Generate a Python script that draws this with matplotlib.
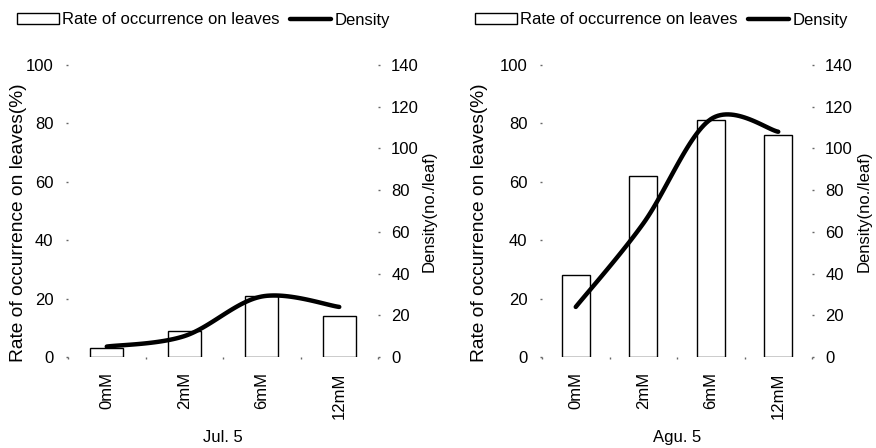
import matplotlib
matplotlib.use("Agg")
import matplotlib.pyplot as plt
import numpy as np

## data
concentrations = ['0mM', '2mM', '6mM', '12mM']
jul_rate = [3, 9, 21, 14]
jul_density = [5, 10, 29, 24]
agu_rate = [28, 62, 81, 76]
agu_density = [24, 64, 114, 108]
panel_titles = ['Jul. 5', 'Agu. 5']

plt.rcParams['font.family'] = ['Liberation Sans', 'DejaVu Sans']
plt.rcParams['font.size'] = 12


def smooth_line(xs, ys, n=30):
    ## excel-like smoothed line: bezier segments with 1/6 tension
    xs = np.asarray(xs, float)
    ys = np.asarray(ys, float)
    px = np.concatenate([[xs[0]], xs, [xs[-1]]])
    py = np.concatenate([[ys[0]], ys, [ys[-1]]])
    out_x, out_y = [], []
    t = np.linspace(0, 1, n)
    for i in range(1, len(px) - 2):
        p0 = np.array([px[i], py[i]])
        p3 = np.array([px[i + 1], py[i + 1]])
        p1 = p0 + (np.array([px[i + 1], py[i + 1]]) - np.array([px[i - 1], py[i - 1]])) / 6
        p2 = p3 - (np.array([px[i + 2], py[i + 2]]) - np.array([px[i], py[i]])) / 6
        b = ((1 - t) ** 3)[:, None] * p0 + (3 * (1 - t) ** 2 * t)[:, None] * p1 \
            + (3 * (1 - t) * t ** 2)[:, None] * p2 + (t ** 3)[:, None] * p3
        out_x.extend(b[:, 0])
        out_y.extend(b[:, 1])
    return out_x, out_y


fig = plt.figure(figsize=(8.76, 4.48), dpi=100)

W, H = 876, 448
panels = [
    # left px, right px, data, ylabel x offsets, legend x
    (68, 378, jul_rate, jul_density, -0.132, 1.14, 17),
    (542, 812, agu_rate, agu_density, -0.2, 1.165, 475),
]
y_bottom, y_top = 357, 65

for k, (x0, x1, rate, dens, ylx, yrx, legx) in enumerate(panels):
    ax = fig.add_axes([x0 / W, 1 - y_bottom / H, (x1 - x0) / W, (y_bottom - y_top) / H])
    ax2 = ax.twinx()
    x = np.arange(len(concentrations))
    bars = ax.bar(x, rate, width=0.42, color='white', edgecolor='black', linewidth=1.0,
                  label='Rate of occurrence on leaves')
    sx, sy = smooth_line(x, dens)
    line, = ax2.plot(sx, sy, color='black', linewidth=3.2, solid_capstyle='round',
                     label='Density')

    ax.set_xlim(-0.5, len(concentrations) - 0.5)
    ax.set_ylim(0, 100)
    ax2.set_ylim(0, 140)
    ax.set_yticks(range(0, 101, 20))
    ax2.set_yticks(range(0, 141, 20))
    ax.set_xticks(x)
    ax.set_xticklabels(concentrations, rotation=90)
    ax.set_xticks(np.arange(-0.5, len(concentrations), 1), minor=True)

    for a in (ax, ax2):
        for s in a.spines.values():
            s.set_visible(False)
    ax.tick_params(axis='y', length=1.5, width=1, color='#666666', pad=9)
    ax2.tick_params(axis='y', length=1.5, width=1, color='#666666', pad=8)
    ax.tick_params(axis='x', which='major', length=0, pad=11)
    ax.tick_params(axis='x', which='minor', length=1.5, width=1, color='#666666')

    ax.set_ylabel('Rate of occurrence on leaves(%)', fontsize=13.8)
    ax.yaxis.set_label_coords(ylx, 0.46)
    ax2.set_ylabel('Density(no./leaf)')
    ax2.yaxis.set_label_coords(yrx, 0.5)
    ax.set_xlabel(panel_titles[k])
    ax.xaxis.set_label_coords(0.5, -0.25)

    fig.legend([bars, line], ['Rate of occurrence on leaves', 'Density'],
               loc='center left', bbox_to_anchor=(legx / W, 1 - 20 / H),
               ncol=2, frameon=False, handlelength=2.5, handletextpad=0.2,
               columnspacing=0.6, borderpad=0, borderaxespad=0)

plt.savefig('out.png', dpi=100)
